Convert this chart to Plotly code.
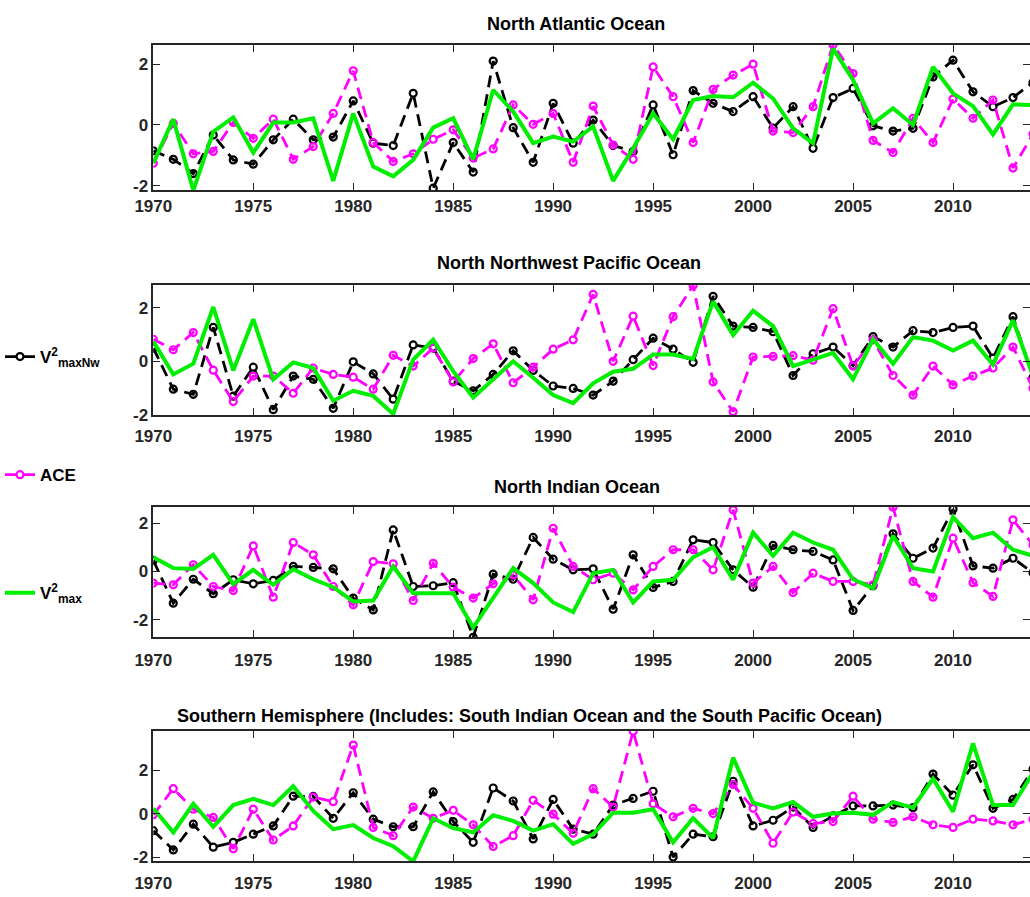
import plotly.graph_objects as go

years = list(range(1970, 2015))

# North Atlantic
na_vmaxnw = [-0.85, -1.13, -1.6, -0.33, -1.15, -1.29, -0.49, 0.19, -0.49, -0.40,
             0.79, -0.6, -0.68, 1.04, -2.08, -0.58, -1.55, 2.1, -0.09, -1.23,
             0.71, -0.6, 0.16, -0.68, -0.87, 0.66, -0.98, 1.13, 0.71, 0.44,
             0.93, -0.1, 0.6, -0.77, 0.9, 1.2, -0.03, -0.2, -0.11, 1.58,
             2.13, 1.09, 0.6, 0.9, 1.4]
na_ace = [-1.26, 0.05, -0.95, -0.87, 0.08, -0.44, 0.19, -1.13, -0.71, 0.38,
          1.78, -0.58, -1.2, -0.95, -0.47, -0.16, -1.09, -0.79, 0.66, 0.02,
          0.38, -1.23, 0.62, -0.66, -1.13, 1.91, 0.93, -0.58, 1.17, 1.64,
          2.0, -0.2, -0.25, 0.6, 2.64, 1.69, -0.51, -0.91, 0.22, -0.58,
          0.85, 0.22, 0.82, -1.42, -0.3]
na_vmax = [-1.26, 0.19, -2.15, -0.22, 0.25, -0.91, 0.08, 0.08, 0.22, -1.84,
           0.38, -1.37, -1.69, -1.15, -0.09, 0.22, -1.13, 1.15, 0.44, -0.6,
           -0.38, -0.55, -0.05, -1.84, -0.77, 0.38, -0.47, 0.82, 0.95, 0.91,
           1.39, 0.87, -0.11, -0.6, 2.51, 1.48, 0.05, 0.55, 0.0, 1.91,
           1.04, 0.62, -0.31, 0.68, 0.65]

# North Northwest Pacific
nwp_vmaxnw = [0.49, -1.04, -1.23, 1.26, -1.3, -0.22, -1.8, -0.55, -0.67, -1.75,
              -0.02, -0.47, -1.41, 0.61, 0.49, -0.74, -1.1, -0.49, 0.39, -0.34,
              -0.92, -1.01, -1.26, -0.74, 0.06, 0.86, 0.45, -0.04, 2.42, 1.31,
              1.26, 1.1, -0.53, 0.28, 0.53, -0.16, 0.92, 0.53, 1.14, 1.07,
              1.26, 1.31, 0.12, 1.66, -0.6]
nwp_ace = [0.82, 0.43, 1.07, -0.33, -1.5, -0.55, -0.55, -1.19, -0.25, -0.49,
           -0.59, -1.04, 0.22, -0.18, 0.49, -0.77, 0.1, 0.65, -0.8, -0.22,
           0.45, 0.8, 2.49, 0.0, 1.68, -0.16, 1.66, 2.82, -0.77, -1.88,
           0.16, 0.18, 0.21, 0.04, 1.96, -0.18, 0.8, -0.53, -1.26, -0.18,
           -0.88, -0.55, -0.25, 0.53, -1.0]
nwp_vmax = [0.74, -0.49, -0.09, 2.02, -0.34, 1.57, -0.67, -0.04, -0.25, -1.47,
            -1.1, -1.29, -1.96, 0.06, 0.8, -0.37, -1.35, -0.67, 0.0, -0.61,
            -1.26, -1.56, -0.82, -0.39, -0.28, 0.25, 0.25, 0.09, 2.23, 0.98,
            1.88, 1.31, -0.18, 0.06, 0.31, -0.67, 0.82, -0.09, 0.9, 0.77,
            0.4, 0.77, -0.12, 1.53, -0.55]

# North Indian
ni_vmaxnw = [0.46, -1.31, -0.32, -0.92, -0.34, -0.51, -0.37, 0.21, 0.17, 0.11,
             -1.1, -1.59, 1.72, -0.62, -0.59, -0.46, -2.72, -0.11, -0.32, 1.41,
             0.51, 0.07, 0.11, -1.56, 0.69, -0.66, -0.41, 1.31, 1.2, 0.07,
             -0.65, 1.08, 0.9, 0.83, 0.48, -1.61, -0.59, 1.56, 0.55, 0.97,
             2.58, 0.23, 0.14, 0.55, -0.05]
ni_ace = [-0.48, -0.55, 0.28, -0.62, -0.79, 1.06, -1.06, 1.2, 0.69, -0.62,
          -1.38, 0.41, 0.32, -1.2, 0.34, -0.65, -1.1, -0.51, -0.14, -1.17,
          1.79, 0.21, -0.34, -0.07, -0.76, 0.21, 0.9, 0.9, 0.07, 2.55,
          -0.48, 0.21, -0.87, -0.07, -0.41, -0.41, -0.55, 2.66, -0.41, -1.06,
          1.38, -0.46, -1.03, 2.14, 1.1]
ni_vmax = [0.59, 0.14, 0.11, 0.69, -0.52, 0.07, -0.55, 0.1, -0.32, -0.65,
           -1.24, -1.2, 0.21, -0.9, -0.9, -0.9, -2.32, -1.1, 0.14, -0.48,
           -1.28, -1.68, -0.07, 0.07, -1.28, -0.41, -0.34, 0.59, 1.01, -0.34,
           1.61, 0.65, 1.61, 1.2, 0.9, -0.32, -0.69, 1.48, 0.14, 0.0,
           2.25, 1.38, 1.61, 0.9, 0.65]

# Southern Hemisphere
sh_vmaxnw = [-0.78, -1.67, -0.48, -1.54, -1.32, -0.94, -0.56, 0.81, 0.8, -0.21,
             0.97, -0.25, -0.6, -0.6, 1.01, -0.36, -1.32, 1.19, 0.59, -1.16,
             0.66, -0.71, -0.94, 0.4, 0.71, 1.04, -2.0, -0.94, -1.06, 1.5,
             -0.56, -0.3, 0.31, -0.63, -0.1, 0.36, 0.36, 0.4, 0.28, 1.83,
             0.86, 2.26, 0.25, 0.66, 2.05]
sh_ace = [-0.05, 1.16, 0.21, -0.17, -1.62, 0.21, -1.21, -0.56, 0.77, 0.56,
          3.17, -0.63, -1.01, 0.31, -0.21, 0.16, -0.51, -1.51, -1.01, 0.62,
          -0.02, -0.9, 1.16, 0.31, 3.81, 0.46, -0.14, 0.25, 0.01, 1.35,
          0.25, -1.36, 0.08, -0.45, -0.36, 0.81, -0.25, -0.4, -0.14, -0.51,
          -0.63, -0.25, -0.33, -0.51, -0.25]
sh_vmax = [0.25, -0.86, 0.46, -0.6, 0.4, 0.69, 0.4, 1.27, 0.13, -0.71,
           -0.52, -1.12, -1.5, -2.2, -0.21, -0.66, -0.86, -0.07, -0.33, -0.78,
           -0.48, -1.39, -0.94, 0.05, 0.05, 0.21, -1.32, -0.21, -1.12, 2.59,
           0.51, 0.25, 0.54, -0.14, 0.01, 0.05, -0.05, 0.54, 0.28, 1.62,
           0.1, 3.25, 0.4, 0.4, 1.9]

titles = ["North Atlantic Ocean",
          "North Northwest Pacific Ocean",
          "North Indian Ocean",
          "Southern Hemisphere (Includes: South Indian Ocean and the South Pacific Ocean)"]
panels = [(na_vmaxnw, na_ace, na_vmax),
          (nwp_vmaxnw, nwp_ace, nwp_vmax),
          (ni_vmaxnw, ni_ace, ni_vmax),
          (sh_vmaxnw, sh_ace, sh_vmax)]
y_ranges = [[-2.14, 2.63], [-2.0, 2.84], [-2.71, 2.67], [-2.18, 3.82]]
x_ticks = list(range(1970, 2015, 5))
y_ticks = [-2, 0, 2]
series_names = ["V<sup>2</sup><sub>maxNw</sub>", "ACE", "V<sup>2</sup><sub>max</sub>"]

W, H = 1030, 897
# pixel layout (top, bottom) of each panel
panel_px = [(45, 190), (285, 415), (507, 637), (731, 861)]
title_px = [(576, 24), (569, 263), (577, 487), (529, 716)]
x_standoff = [0, 5, 7, 6]
x_left = 153.3

FONT = "Liberation Sans, Arial, Helvetica, sans-serif"
AX = "#262626"

fig = go.Figure()
for i, (vnw, ace, vm) in enumerate(panels):
    xa = "x" if i == 0 else f"x{i+1}"
    ya = "y" if i == 0 else f"y{i+1}"
    show = i == 0
    fig.add_trace(go.Scatter(
        x=years, y=vnw, xaxis=xa, yaxis=ya, mode="lines+markers",
        name=series_names[0], legendgroup="a", showlegend=show,
        line=dict(color="#000000", width=2.8, dash="12px,7px"),
        marker=dict(symbol="circle-open", size=7, color="#000000", line=dict(width=2.2))))
    fig.add_trace(go.Scatter(
        x=years, y=ace, xaxis=xa, yaxis=ya, mode="lines+markers",
        name=series_names[1], legendgroup="b", showlegend=show,
        line=dict(color="#ff00ff", width=2.8, dash="12px,7px"),
        marker=dict(symbol="circle-open", size=7, color="#ff00ff", line=dict(width=2.2))))
    fig.add_trace(go.Scatter(
        x=years, y=vm, xaxis=xa, yaxis=ya, mode="lines",
        name=series_names[2], legendgroup="c", showlegend=show,
        line=dict(color="#00ee00", width=4)))

layout = dict(
    width=W, height=H,
    margin=dict(l=0, r=0, t=0, b=0, autoexpand=False),
    paper_bgcolor="white", plot_bgcolor="white",
    showlegend=True,
    legend=dict(x=0.0, xanchor="left", y=(H - 339) / H, yanchor="top",
                tracegroupgap=93, itemwidth=30,
                font=dict(family=FONT, size=17, color="#000000", weight="bold"),
                bgcolor="rgba(0,0,0,0)"),
    annotations=[],
)
for i in range(4):
    top, bot = panel_px[i]
    xk = "xaxis" if i == 0 else f"xaxis{i+1}"
    yk = "yaxis" if i == 0 else f"yaxis{i+1}"
    ya = "y" if i == 0 else f"y{i+1}"
    xa = "x" if i == 0 else f"x{i+1}"
    layout[xk] = dict(
        domain=[x_left / W, 1.0], range=[1970, 2013.85], anchor=ya,
        tickmode="array", tickvals=x_ticks, ticktext=[str(t) for t in x_ticks],
        ticks="inside", ticklen=7, tickwidth=1.2, tickcolor=AX,
        ticklabelstandoff=x_standoff[i],
        showline=True, linecolor=AX, linewidth=1.5, mirror="ticks",
        showgrid=False, zeroline=False, automargin=False,
        tickfont=dict(family=FONT, size=17, color=AX, weight="bold"))
    layout[yk] = dict(
        domain=[(H - bot) / H, (H - top) / H], range=y_ranges[i], anchor=xa,
        tickmode="array", tickvals=y_ticks, ticktext=[str(t) for t in y_ticks],
        ticks="inside", ticklen=7, tickwidth=1.2, tickcolor=AX,
        showline=True, linecolor=AX, linewidth=1.5, mirror="ticks",
        showgrid=False, zeroline=False, automargin=False,
        tickfont=dict(family=FONT, size=17, color=AX, weight="bold"))
    cx, cy = title_px[i]
    layout["annotations"].append(dict(
        text=titles[i], x=cx / W, y=(H - cy) / H, xref="paper", yref="paper",
        xanchor="center", yanchor="middle", showarrow=False,
        font=dict(family=FONT, size=18, color="#000000", weight="bold")))

fig.update_layout(**layout)
fig.write_html("out.html")
